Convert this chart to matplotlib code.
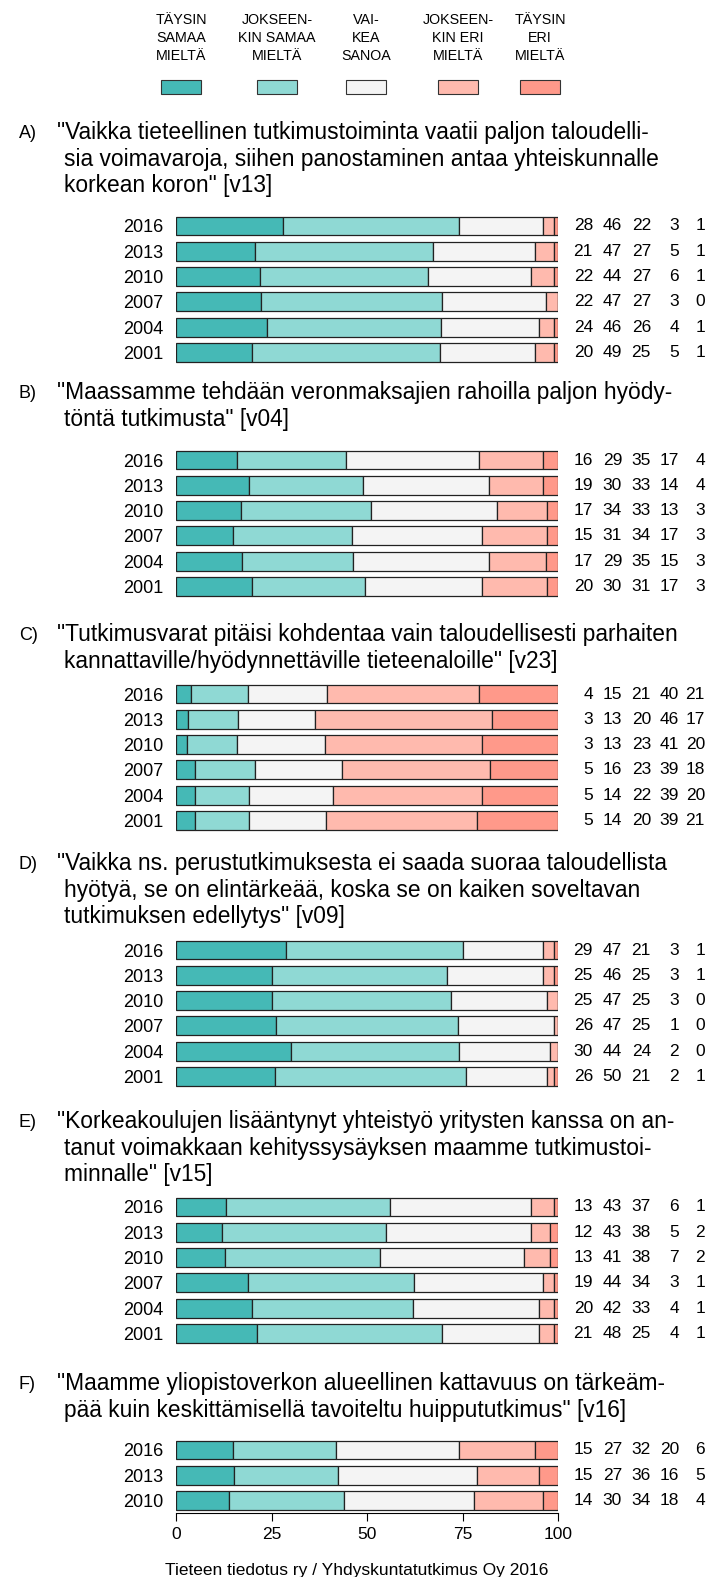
import matplotlib
matplotlib.use('Agg')
import numpy as np
import matplotlib.pyplot as plt
import matplotlib.transforms as mtransforms
from matplotlib import font_manager
from matplotlib.patches import Rectangle

plt.rcParams['font.family'] = ['Liberation Sans', 'DejaVu Sans']

# answer categories (legend) and their colours
categories = ['TÄYSIN\nSAMAA\nMIELTÄ', 'JOKSEEN-\nKIN SAMAA\nMIELTÄ', 'VAI-\nKEA\nSANOA',
              'JOKSEEN-\nKIN ERI\nMIELTÄ', 'TÄYSIN\nERI\nMIELTÄ']
colors = ['#45B9B6', '#8FD9D4', '#F4F4F4', '#FFBAAE', '#FF998A']

years6 = [2016, 2013, 2010, 2007, 2004, 2001]
years3 = [2016, 2013, 2010]

# percentages per year, order as in categories
a_vals = [[28, 46, 22, 3, 1], [21, 47, 27, 5, 1], [22, 44, 27, 6, 1],
          [22, 47, 27, 3, 0], [24, 46, 26, 4, 1], [20, 49, 25, 5, 1]]
b_vals = [[16, 29, 35, 17, 4], [19, 30, 33, 14, 4], [17, 34, 33, 13, 3],
          [15, 31, 34, 17, 3], [17, 29, 35, 15, 3], [20, 30, 31, 17, 3]]
c_vals = [[4, 15, 21, 40, 21], [3, 13, 20, 46, 17], [3, 13, 23, 41, 20],
          [5, 16, 23, 39, 18], [5, 14, 22, 39, 20], [5, 14, 20, 39, 21]]
d_vals = [[29, 47, 21, 3, 1], [25, 46, 25, 3, 1], [25, 47, 25, 3, 0],
          [26, 47, 25, 1, 0], [30, 44, 24, 2, 0], [26, 50, 21, 2, 1]]
e_vals = [[13, 43, 37, 6, 1], [12, 43, 38, 5, 2], [13, 41, 38, 7, 2],
          [19, 44, 34, 3, 1], [20, 42, 33, 4, 1], [21, 48, 25, 4, 1]]
f_vals = [[15, 27, 32, 20, 6], [15, 27, 36, 16, 5], [14, 30, 34, 18, 4]]

a_title = ['"Vaikka tieteellinen tutkimustoiminta vaatii paljon taloudelli-',
           'sia voimavaroja, siihen panostaminen antaa yhteiskunnalle',
           'korkean koron" [v13]']
b_title = ['"Maassamme tehdään veronmaksajien rahoilla paljon hyödy-',
           'töntä tutkimusta" [v04]']
c_title = ['"Tutkimusvarat pitäisi kohdentaa vain taloudellisesti parhaiten',
           'kannattaville/hyödynnettäville tieteenaloille" [v23]']
d_title = ['"Vaikka ns. perustutkimuksesta ei saada suoraa taloudellista',
           'hyötyä, se on elintärkeää, koska se on kaiken soveltavan',
           'tutkimuksen edellytys" [v09]']
e_title = ['"Korkeakoulujen lisääntynyt yhteistyö yritysten kanssa on an-',
           'tanut voimakkaan kehityssysäyksen maamme tutkimustoi-',
           'minnalle" [v15]']
f_title = ['"Maamme yliopistoverkon alueellinen kattavuus on tärkeäm-',
           'pää kuin keskittämisellä tavoiteltu huippututkimus" [v16]']

W, H = 714, 1577
fig = plt.figure(figsize=(W / 100, H / 100), dpi=100)


def fx(px):
    return px / W


def fy(py):
    return 1 - py / H


# legend text is set in a narrow face when one is installed
names = {f.name for f in font_manager.fontManager.ttflist}
if 'Liberation Sans Narrow' in names:
    leg_font, leg_size = ['Liberation Sans Narrow', 'DejaVu Sans'], 11.5
else:
    leg_font, leg_size = ['Liberation Sans', 'DejaVu Sans'], 10.3

# layout in pixels: (label, title, years, values, title y, first bar centre y)
sections = [
    ('A)', a_title, years6, a_vals, 132, 226),
    ('B)', b_title, years6, b_vals, 392, 460),
    ('C)', c_title, years6, c_vals, 634, 694),
    ('D)', d_title, years6, d_vals, 863, 950),
    ('E)', e_title, years6, e_vals, 1121, 1207),
    ('F)', f_title, years3, f_vals, 1383, 1450),
]
step = 25.3
bar_l, bar_r = 176, 558
num_right = [593, 622, 651, 679, 705]

for k, (label, title, years, values, ty, y0) in enumerate(sections):
    # question text with hanging indent
    fig.text(fx(19), fy(ty + 6), label, fontsize=13, va='baseline')
    for i, line in enumerate(title):
        fig.text(fx(57 if i == 0 else 64.5), fy(ty + i * 26.6 + 7), line,
                 fontsize=16.4, va='baseline')

    n = len(years)
    top = y0 - step / 2
    ax = fig.add_axes([fx(bar_l), fy(top + n * step), fx(bar_r) - fx(bar_l), n * step / H])
    vals = np.array(values, dtype=float)
    shares = vals / vals.sum(axis=1, keepdims=True) * 100
    left = np.zeros(n)
    for j in range(5):
        ax.barh(np.arange(n), shares[:, j], left=left, height=0.75,
                color=colors[j], edgecolor='#222222', linewidth=0.9)
        left += shares[:, j]
    ax.set_xlim(0, 100)
    ax.set_ylim(n - 0.5, -0.5)
    ax.set_yticks(np.arange(n), [str(y) for y in years], fontsize=13)
    ax.tick_params(axis='y', length=0, pad=9)
    for s in ['top', 'right', 'left']:
        ax.spines[s].set_visible(False)

    if k == len(sections) - 1:
        ax.set_xticks([0, 25, 50, 75, 100])
        ax.tick_params(axis='x', length=6, width=0.8, pad=4, labelsize=12.5)
        ax.spines['bottom'].set_linewidth(0.8)
    else:
        ax.set_xticks([])
        ax.spines['bottom'].set_visible(False)

    # value columns on the right
    tr = mtransforms.blended_transform_factory(fig.transFigure, ax.transData)
    for i, row in enumerate(values):
        for j, v in enumerate(row):
            ax.text(fx(num_right[j]), i, str(v), transform=tr, ha='right',
                    va='center', fontsize=12.5, clip_on=False)

# legend on top
leg_x = [181, 277, 366, 458, 540]
for cx, lab, col in zip(leg_x, categories, colors):
    for i, line in enumerate(lab.split('\n')):
        fig.text(fx(cx), fy(20 + i * 18), line, ha='center', va='center',
                 fontsize=leg_size, family=leg_font)
    fig.patches.append(Rectangle((fx(cx - 20), fy(94)), 40 / W, 14 / H,
                                 transform=fig.transFigure, facecolor=col,
                                 edgecolor='#333333', linewidth=0.8))

fig.text(0.5, fy(1571), 'Tieteen tiedotus ry / Yhdyskuntatutkimus Oy 2016',
         ha='center', va='center', fontsize=12.5)

fig.savefig('out.png', dpi=100)
